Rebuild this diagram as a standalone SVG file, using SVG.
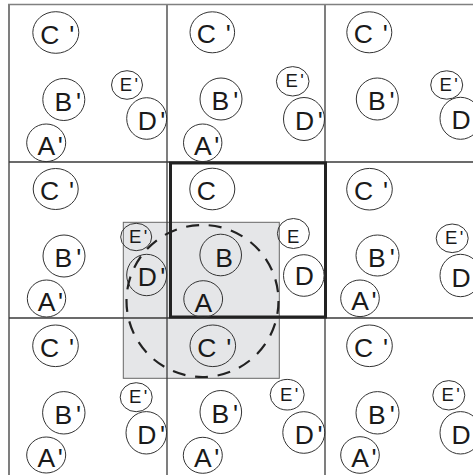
<svg xmlns="http://www.w3.org/2000/svg" width="473" height="475" viewBox="0 0 473 475">
<style>
.bg{fill:#fff}
.grid line{stroke:#3a3a3a;stroke-width:1.3}
.nd{fill:none;stroke:#333;stroke-width:1}
.lb{font-family:"Liberation Sans",Arial,Helvetica,sans-serif;font-size:26.5px;fill:#1a1a1a}
.ls{font-size:18.5px}
</style>
<rect class="bg" x="0" y="0" width="473" height="475"/>
<rect id="window" x="123.3" y="222.3" width="156" height="156" fill="#e5e6e8" stroke="#666" stroke-width="1"/>
<g class="grid" id="grid">
<line x1="9" y1="4" x2="9" y2="475"/>
<line x1="167" y1="4" x2="167" y2="475"/>
<line x1="325" y1="4" x2="325" y2="475"/>
<line x1="9" y1="162" x2="473" y2="162"/>
<line x1="9" y1="318" x2="473" y2="318"/>
<line x1="8" y1="4.5" x2="473" y2="4.5" style="stroke:#808080;stroke-width:1.6"/>
</g>
<rect id="central-cell" x="170.5" y="163" width="155" height="154" fill="none" stroke="#222" stroke-width="3"/>
<g id="connectors"></g>

<!-- row 0 -->
<g id="cell00-C"><ellipse class="nd" cx="55.8" cy="32.5" rx="23" ry="20.8"/><text class="lb" x="40.2" y="43.5">C <tspan dx="2.5">'</tspan></text></g>
<g id="cell00-B"><ellipse class="nd" cx="63.8" cy="99.5" rx="21" ry="21"/><text class="lb" x="54.4" y="110.5">B<tspan dx="4">'</tspan></text></g>
<g id="cell00-E"><ellipse class="nd" cx="127" cy="85" rx="15.5" ry="14.3"/><text class="lb ls" x="119.8" y="90.8">E<tspan dx="2.3">'</tspan></text></g>
<g id="cell00-D"><ellipse class="nd" cx="146.7" cy="118.5" rx="20" ry="20.8"/><text class="lb" x="137.7" y="129.5">D<tspan dx="3.5">'</tspan></text></g>
<g id="cell00-A"><ellipse class="nd" cx="46.2" cy="142.8" rx="19.5" ry="18.8"/><text class="lb" x="37.5" y="154.5">A<tspan dx="2.5">'</tspan></text></g>

<g id="cell10-C"><ellipse class="nd" cx="212.3" cy="32.3" rx="22.3" ry="20.5"/><text class="lb" x="196.7" y="43.3">C <tspan dx="2.5">'</tspan></text></g>
<g id="cell10-B"><ellipse class="nd" cx="221" cy="99" rx="21" ry="21"/><text class="lb" x="211.6" y="110">B<tspan dx="4">'</tspan></text></g>
<g id="cell10-E"><ellipse class="nd" cx="292.7" cy="81.3" rx="16.3" ry="14.7"/><text class="lb ls" x="285.5" y="87.1">E<tspan dx="2.3">'</tspan></text></g>
<g id="cell10-D"><ellipse class="nd" cx="304" cy="119" rx="20.5" ry="21.5"/><text class="lb" x="295" y="130">D<tspan dx="3.5">'</tspan></text></g>
<g id="cell10-A"><ellipse class="nd" cx="202.7" cy="142.8" rx="19.2" ry="18.8"/><text class="lb" x="194" y="154.5">A<tspan dx="2.5">'</tspan></text></g>

<g id="cell20-C"><ellipse class="nd" cx="369.3" cy="32.3" rx="22.5" ry="20.5"/><text class="lb" x="353.7" y="43.3">C <tspan dx="2.5">'</tspan></text></g>
<g id="cell20-B"><ellipse class="nd" cx="377.3" cy="99" rx="21" ry="21"/><text class="lb" x="367.9" y="110">B<tspan dx="4">'</tspan></text></g>
<g id="cell20-E"><ellipse class="nd" cx="446.7" cy="85" rx="16" ry="14.2"/><text class="lb ls" x="439.5" y="90.8">E<tspan dx="2.3">'</tspan></text></g>
<g id="cell20-D"><ellipse class="nd" cx="460.5" cy="118.3" rx="20.5" ry="21"/><text class="lb" x="451.5" y="129.3">D<tspan dx="3.5">'</tspan></text></g>

<!-- row 1 -->
<g id="cell01-C"><ellipse class="nd" cx="55.7" cy="189" rx="22.5" ry="20.5"/><text class="lb" x="40.1" y="200">C <tspan dx="2.5">'</tspan></text></g>
<g id="cell01-B"><ellipse class="nd" cx="64" cy="256" rx="21" ry="21"/><text class="lb" x="54.6" y="267">B<tspan dx="4">'</tspan></text></g>
<g id="cell01-E"><ellipse class="nd" cx="136.2" cy="237" rx="15.5" ry="13.7"/><text class="lb ls" x="129" y="242.8">E<tspan dx="2.3">'</tspan></text></g>
<g id="cell01-D"><ellipse class="nd" cx="146.7" cy="275" rx="20" ry="20.7"/><text class="lb" x="137.7" y="286">D<tspan dx="3.5">'</tspan></text></g>
<g id="cell01-A"><ellipse class="nd" cx="46.5" cy="298.5" rx="19.2" ry="18.5"/><text class="lb" x="37.8" y="310.5">A<tspan dx="2.5">'</tspan></text></g>

<g id="node-C"><ellipse class="nd" cx="212.3" cy="189" rx="22.5" ry="20.8"/><text class="lb" x="196.7" y="200">C</text></g>
<g id="node-B"><ellipse class="nd" cx="220.7" cy="255" rx="20.8" ry="20.8"/><text class="lb" x="215.3" y="266.7">B</text></g>
<g id="node-E"><ellipse class="nd" cx="293.4" cy="233.5" rx="16" ry="15"/><text class="lb ls" x="287" y="242.7">E</text></g>
<g id="node-D"><ellipse class="nd" cx="303.8" cy="275.5" rx="20.3" ry="20.8"/><text class="lb" x="294.8" y="285">D</text></g>
<g id="node-A"><ellipse class="nd" cx="203.2" cy="299" rx="19.4" ry="18.3"/><text class="lb" x="194.5" y="312">A</text></g>

<g id="cell21-C"><ellipse class="nd" cx="369.5" cy="189.2" rx="22.8" ry="20.8"/><text class="lb" x="353.9" y="200.2">C <tspan dx="2.5">'</tspan></text></g>
<g id="cell21-B"><ellipse class="nd" cx="377.5" cy="255.5" rx="21.5" ry="20.5"/><text class="lb" x="368.1" y="266.5">B<tspan dx="4">'</tspan></text></g>
<g id="cell21-E"><ellipse class="nd" cx="452.2" cy="238.3" rx="16" ry="14.3"/><text class="lb ls" x="445" y="244.1">E<tspan dx="2.3">'</tspan></text></g>
<g id="cell21-D"><ellipse class="nd" cx="460.5" cy="275.5" rx="20.5" ry="21.2"/><text class="lb" x="451.5" y="286.5">D<tspan dx="3.5">'</tspan></text></g>
<g id="cell21-A"><ellipse class="nd" cx="360" cy="298.3" rx="19.3" ry="18.3"/><text class="lb" x="351.3" y="310.3">A<tspan dx="2.5">'</tspan></text></g>

<!-- row 2 -->
<g id="cell02-C"><ellipse class="nd" cx="55.5" cy="345.8" rx="22.8" ry="20.8"/><text class="lb" x="39.9" y="356.8">C <tspan dx="2.5">'</tspan></text></g>
<g id="cell02-B"><ellipse class="nd" cx="63.8" cy="412.8" rx="21.2" ry="21.2"/><text class="lb" x="54.4" y="423.8">B<tspan dx="4">'</tspan></text></g>
<g id="cell02-E"><ellipse class="nd" cx="136.2" cy="397.2" rx="16" ry="14.5"/><text class="lb ls" x="129" y="403">E<tspan dx="2.3">'</tspan></text></g>
<g id="cell02-D"><ellipse class="nd" cx="146.3" cy="432.8" rx="20.3" ry="21.2"/><text class="lb" x="137.3" y="443.8">D<tspan dx="3.5">'</tspan></text></g>
<g id="cell02-A"><ellipse class="nd" cx="46.2" cy="455" rx="19.5" ry="18"/><text class="lb" x="37.5" y="467">A<tspan dx="2.5">'</tspan></text></g>

<g id="cell12-C"><ellipse class="nd" cx="212.8" cy="345.8" rx="22.8" ry="20.8"/><text class="lb" x="197.2" y="356.8">C <tspan dx="2.5">'</tspan></text></g>
<g id="cell12-B"><ellipse class="nd" cx="220.8" cy="412" rx="20.8" ry="21.5"/><text class="lb" x="211.4" y="423">B<tspan dx="4">'</tspan></text></g>
<g id="cell12-E"><ellipse class="nd" cx="287.2" cy="394.7" rx="17" ry="15.3"/><text class="lb ls" x="280" y="400.5">E<tspan dx="2.3">'</tspan></text></g>
<g id="cell12-D"><ellipse class="nd" cx="303.8" cy="432.5" rx="21" ry="20.8"/><text class="lb" x="294.8" y="443.5">D<tspan dx="3.5">'</tspan></text></g>
<g id="cell12-A"><ellipse class="nd" cx="202.8" cy="455.3" rx="19.5" ry="18"/><text class="lb" x="194.1" y="467.3">A<tspan dx="2.5">'</tspan></text></g>

<g id="cell22-C"><ellipse class="nd" cx="369.5" cy="345.8" rx="22.8" ry="20.8"/><text class="lb" x="353.9" y="356.8">C <tspan dx="2.5">'</tspan></text></g>
<g id="cell22-B"><ellipse class="nd" cx="377.5" cy="412.8" rx="21.5" ry="21.2"/><text class="lb" x="368.1" y="423.8">B<tspan dx="4">'</tspan></text></g>
<g id="cell22-E"><ellipse class="nd" cx="448.8" cy="395.3" rx="16" ry="14.7"/><text class="lb ls" x="441.6" y="401.1">E<tspan dx="2.3">'</tspan></text></g>
<g id="cell22-D"><ellipse class="nd" cx="460.5" cy="432.8" rx="20.5" ry="21.2"/><text class="lb" x="451.5" y="443.8">D<tspan dx="3.5">'</tspan></text></g>
<g id="cell22-A"><ellipse class="nd" cx="360" cy="455" rx="19.3" ry="18.3"/><text class="lb" x="351.3" y="467">A<tspan dx="2.5">'</tspan></text></g>

<circle id="range" cx="202.5" cy="301" r="76" fill="none" stroke="#222" stroke-width="2.2" stroke-dasharray="13 9.74"/>
</svg>
